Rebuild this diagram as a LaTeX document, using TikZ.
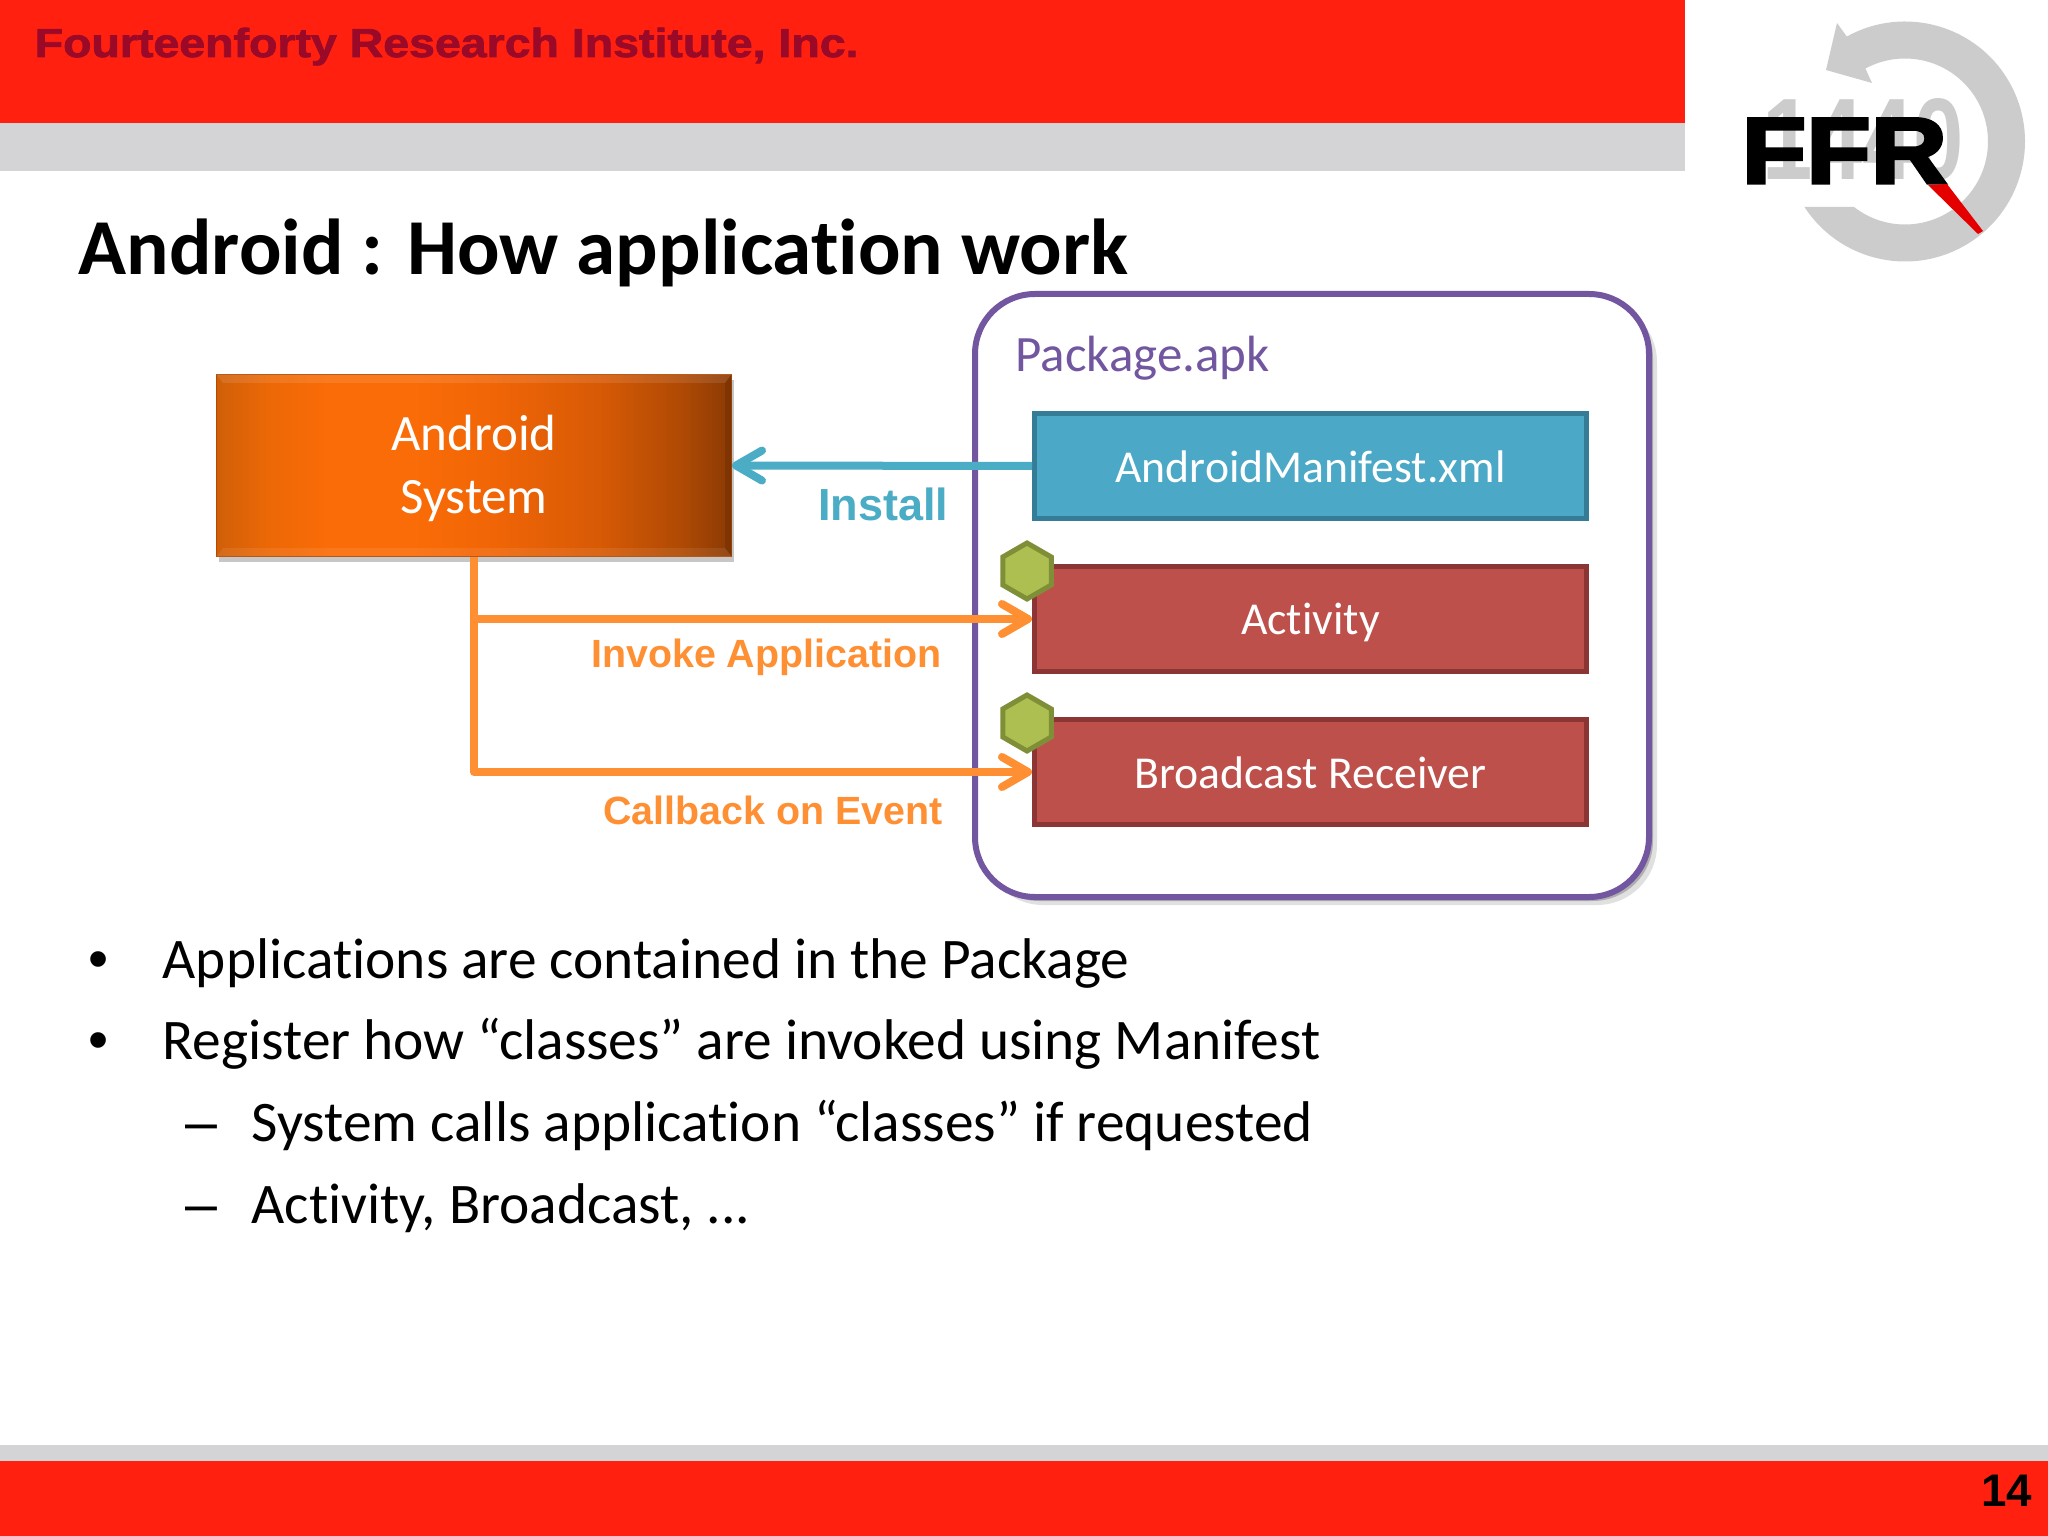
\documentclass[tikz,border=0pt]{standalone}
\usepackage{fontspec}
\setmainfont{Carlito}[Ligatures={NoCommon}]
\newfontfamily\arialfont{Liberation Sans}
\newfontfamily\headfont[BoldFeatures={FakeBold=2,FakeStretch=1.15}]{Liberation Sans}
\newfontfamily\ffrfont[BoldFeatures={FakeBold=3.5,FakeStretch=1.13}]{Liberation Sans}
\newfontfamily\numfont[BoldFeatures={FakeStretch=0.78}]{Liberation Sans}
\usetikzlibrary{calc,positioning,shapes.geometric,shadows,arrows.meta}
\definecolor{barred}{HTML}{FF2010}
\definecolor{bargray}{HTML}{D4D4D6}
\definecolor{headred}{HTML}{9A0A28}
\definecolor{ringgray}{HTML}{CBCCCB}
\definecolor{packpurple}{HTML}{7257A0}
\definecolor{manifill}{HTML}{4BA8C6}
\definecolor{maniline}{HTML}{357D96}
\definecolor{classfill}{HTML}{BE504C}
\definecolor{classline}{HTML}{8C3535}
\definecolor{hexfill}{HTML}{AEBF52}
\definecolor{hexline}{HTML}{7E8F38}
\definecolor{wireorange}{HTML}{FF8F33}
\definecolor{wireblue}{HTML}{4BACC6}
\definecolor{sysa}{HTML}{D05F08}
\definecolor{sysb}{HTML}{EC6806}
\definecolor{sysc}{HTML}{FA6C07}
\definecolor{sysd}{HTML}{F06506}
\definecolor{syse}{HTML}{D85A05}
\definecolor{sysf}{HTML}{B04A04}
\definecolor{sysg}{HTML}{8A3A04}
\pgfdeclarehorizontalshading{sysfill}{100bp}{color(0bp)=(sysa);color(25bp)=(sysa);color(30bp)=(sysb);color(36bp)=(sysc);color(44bp)=(sysc);color(52bp)=(sysd);color(62bp)=(syse);color(70bp)=(sysf);color(75bp)=(sysg);color(100bp)=(sysg)}
\tikzset{
	classbox/.style={draw,line width=0.05cm,minimum width=5.52cm,minimum height=1.05cm,inner sep=0,text height=0.42cm,text depth=0.10cm,text=white,font=\fontsize{13}{15}\selectfont},
	manibox/.style={classbox,draw=maniline,fill=manifill},
	redbox/.style={classbox,draw=classline,fill=classfill},
	hexmark/.style={regular polygon,regular polygon sides=6,shape border rotate=30,minimum size=0.56cm,inner sep=0,draw=hexline,fill=hexfill,line width=0.05cm},
	wire/.style={line width=0.08cm,line join=round},
	barbtip/.style={-{Straight Barb[length=0.26cm,width=0.30cm,round]}},
	wirelabel/.style={inner sep=0,anchor=base east,font=\arialfont\bfseries\fontsize{11.2}{13}\selectfont},
	bodytext/.style={inner sep=0,font=\fontsize{16.33}{20}\selectfont},
	marktext/.style={bodytext,font=\arialfont\fontsize{16.33}{20}\selectfont},
}
\begin{document}
\begin{tikzpicture}
	\useasboundingbox (0,0) rectangle (20.48,-15.36);
	\fill[white] (0,0) rectangle (20.48,-15.36);
	\fill[barred] (0,0) rectangle (16.85,-1.23);
	\fill[bargray] (0,-1.23) rectangle (16.85,-1.71);
	\fill[bargray] (0,-14.45) rectangle (20.48,-14.61);
	\fill[barred] (0,-14.61) rectangle (20.48,-15.36);
	\node(head) [inner sep=0,anchor=base west,text=headred,font=\headfont\bfseries\fontsize{11.5}{13}\selectfont] at (0.34,-0.57) {Fourteenforty Research Institute, Inc.};
	\node(page) [inner sep=0,anchor=base east,font=\arialfont\bfseries\fontsize{13}{14}\selectfont] at (20.33,-15.06) {14};
	\fill[ringgray] (19.05,-1.415) ++(119:1.2) arc[start angle=119,end angle=-147,radius=1.2] -- ($(19.05,-1.415)+(-128:0.83)$) arc[start angle=-128,end angle=118.5,radius=0.83] -- (18.72,-0.83) -- (18.26,-0.70) -- (18.37,-0.23) -- cycle;
	\node(yrs) [inner sep=0,anchor=base,text=ringgray,font=\numfont\bfseries\fontsize{33}{34}\selectfont] at (18.63,-1.80) {1440};
	\node(ffr) [inner sep=0,anchor=base west,font=\ffrfont\bfseries\fontsize{26.6}{28}\selectfont] at (17.41,-1.83) {FFR};
	\fill[red!90!black] (19.28,-1.85) -- (19.47,-1.84) -- (19.83,-2.31) -- (19.78,-2.34) -- cycle;
	\node(title) [inner sep=0,anchor=base west,font=\bfseries\fontsize{22.55}{26}\selectfont] at (0.78,-2.75) {Android : How application work};
	\node(pack) [draw=packpurple,fill=white,line width=0.06cm,rounded corners=0.6cm,minimum width=6.74cm,minimum height=6.03cm,inner sep=0,anchor=north west,drop shadow={shadow xshift=0.08cm,shadow yshift=-0.08cm,fill=black,opacity=0.12},drop shadow={shadow xshift=0.04cm,shadow yshift=-0.04cm,fill=black,opacity=0.22}] at (9.72,-2.91) {};
	\node(packname) [inner sep=0,anchor=base west,text=packpurple,font=\fontsize{14.5}{17}\selectfont] at (10.15,-3.72) {Package.apk};
	\node(mani) [manibox,anchor=north west] at (10.32,-4.11) {AndroidManifest.xml};
	\node(act) [redbox,below=0.43 of mani] {Activity};
	\node(recv) [redbox,below=0.43 of act] {Broadcast Receiver};
	\node(sys) [draw=sysf,line width=0.01cm,shading=sysfill,minimum width=5.15cm,minimum height=1.82cm,inner sep=0,anchor=north west,align=center,text=white,font=\fontsize{14.5}{17.9}\selectfont,drop shadow={shadow xshift=0.02cm,shadow yshift=-0.06cm,fill=black,opacity=0.22}] at (2.16,-3.74) {\rule{0pt}{0.42cm}Android\\System};
	\fill[white,opacity=0.10] (sys.north west) -- (sys.north east) -- ($(sys.north east)+(-0.07,-0.09)$) -- ($(sys.north west)+(0.07,-0.09)$) -- cycle;
	\fill[white,opacity=0.08] (sys.south west) -- (sys.south east) -- ($(sys.south east)+(-0.07,0.09)$) -- ($(sys.south west)+(0.07,0.09)$) -- cycle;
	\fill[black,opacity=0.10] (sys.north east) -- (sys.south east) -- ($(sys.south east)+(-0.07,0.09)$) -- ($(sys.north east)+(-0.07,-0.09)$) -- cycle;
	\draw[wire,wireblue,barbtip] (mani.west) -- (sys.east);
	\draw[wire,wireorange,barbtip] (sys.south) |- (act.west);
	\draw[wire,wireorange,barbtip] (sys.south) |- (recv.west);
	\node(hexa) [hexmark] at ($(act.north west)+(-0.05,-0.07)$) {};
	\node(hexb) [hexmark] at ($(recv.north west)+(-0.05,-0.06)$) {};
	\node(inst) [wirelabel,text=wireblue,font=\arialfont\bfseries\fontsize{12.8}{15}\selectfont] at (9.49,-5.21) {Install};
	\node(invk) [wirelabel,text=wireorange] at (9.42,-6.68) {Invoke Application};
	\node(call) [wirelabel,text=wireorange] at (9.43,-8.24) {Callback on Event};
	\node(a1) [bodytext,anchor=base west] at (1.62,-9.78) {Applications are contained in the Package};
	\node(a2) [bodytext,below=0.81 of a1.base west,anchor=base west] {Register how “classes” are invoked using Manifest};
	\node(b1) [bodytext,below=0.82 of a2.base west,anchor=base west,xshift=0.89cm] {System calls application “classes” if requested};
	\node(b2) [bodytext,below=0.82 of b1.base west,anchor=base west] {Activity, Broadcast, ...};
	\node(m1) [marktext,left=0.74 of a1.base west,anchor=base west] {•};
	\node(m2) [marktext,left=0.74 of a2.base west,anchor=base west] {•};
	\node(m3) [marktext,left=0.66 of b1.base west,anchor=base west] {–};
	\node(m4) [marktext,left=0.66 of b2.base west,anchor=base west] {–};
\end{tikzpicture}
\end{document}
